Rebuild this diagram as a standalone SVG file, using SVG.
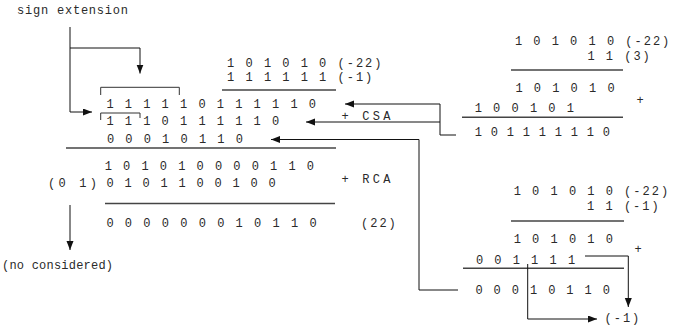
<svg xmlns="http://www.w3.org/2000/svg" width="682" height="327" viewBox="0 0 682 327">
  <style>
    text { font-family: "Liberation Mono", "DejaVu Sans Mono", monospace; font-size: 12px; fill: #2a2a2a; }
    .d { letter-spacing: 2px; }
    .rule { stroke: #444; stroke-width: 1.4; fill: none; }
    .wire { stroke: #111; stroke-width: 1; fill: none; }
    .arrow { stroke: #111; stroke-width: 1; fill: none; marker-end: url(#head); }
    .bracket { stroke: #333; stroke-width: 1; fill: none; }
  </style>
  <defs>
    <marker id="head" markerUnits="userSpaceOnUse" markerWidth="10" markerHeight="8" refX="9" refY="3.5" orient="auto">
      <path d="M0,0 L9,3.5 L0,7 z" fill="#111"/>
    </marker>
  </defs>

  <rect width="682" height="327" fill="#fff"/>

  <!-- label: sign extension -->
  <g id="sign-extension">
    <text x="17" y="13.5" textLength="111" lengthAdjust="spacing">sign extension</text>
  </g>

  <!-- CSA operands: -22 and -1 -->
  <g id="csa-operands">
    <text class="d" x="227.1" y="66.5">1 0 1 0 1 0 (-22)</text>
    <text class="d" x="227.1" y="81">1 1 1 1 1 1 (-1)</text>
    <line class="rule" x1="222" y1="90" x2="336" y2="90"/>
  </g>

  <!-- CSA rows with sign-extension brackets -->
  <g id="csa-rows">
    <path class="bracket" d="M100.7,95 V87.3 H179.3 V95"/>
    <text class="d" x="106.4" y="107.5">1 1 1 1 1 0 1 1 1 1 1 0</text>
    <path class="bracket" d="M100.7,120 V113 H140 V118"/>
    <text class="d" x="106.4" y="124.5">1 1 1 0 1 1 1 1 1 0</text>
    <text class="d" x="106.9" y="143">0 0 0 1 0 1 1 0</text>
    <text x="341.4" y="119.5" textLength="49" lengthAdjust="spacing">+ CSA</text>
    <line class="rule" x1="66" y1="148" x2="336" y2="148"/>
  </g>

  <!-- RCA addition -->
  <g id="rca">
    <text class="d" x="104.7" y="170" textLength="211.3" lengthAdjust="spacing">1 0 1 0 1 0 0 0 0 1 1 0</text>
    <text x="48" y="186.5" textLength="49" lengthAdjust="spacing">(0 1)</text>
    <text class="d" x="106.4" y="186.5" textLength="171.2" lengthAdjust="spacing">0 1 0 1 1 0 0 1 0 0</text>
    <text x="341.4" y="183" textLength="49" lengthAdjust="spacing">+ RCA</text>
    <line class="rule" x1="105" y1="203.5" x2="335" y2="203.5"/>
    <text class="d" x="106.4" y="227" textLength="212.2" lengthAdjust="spacing">0 0 0 0 0 0 0 1 0 1 1 0</text>
    <text class="d" x="361" y="227">(22)</text>
  </g>

  <!-- label: discarded carry -->
  <g id="no-considered">
    <text x="2" y="269" textLength="111" lengthAdjust="spacing">(no considered)</text>
  </g>

  <!-- partial products of -22 x 3 -->
  <g id="product-3">
    <text class="d" x="514.9" y="45">1 0 1 0 1 0 (-22)</text>
    <text class="d" x="587.4" y="59.5">1 1 (3)</text>
    <line class="rule" x1="511" y1="70" x2="623" y2="70"/>
    <text class="d" x="515.4" y="91.7">1 0 1 0 1 0</text>
    <text class="d" x="474.7" y="111.5">1 0 0 1 0 1</text>
    <text x="636.4" y="104">+</text>
    <line class="rule" x1="462" y1="117.3" x2="623" y2="117.3"/>
    <text class="d" x="474.7" y="136" textLength="137.2" lengthAdjust="spacing">1 0 1 1 1 1 1 1 0</text>
  </g>

  <!-- partial products of -22 x -1 -->
  <g id="product-minus1">
    <text class="d" x="513.7" y="195">1 0 1 0 1 0 (-22)</text>
    <text class="d" x="587.1" y="210">1 1 (-1)</text>
    <line class="rule" x1="511" y1="221" x2="624" y2="221"/>
    <text class="d" x="513.7" y="242.5">1 0 1 0 1 0</text>
    <text x="634.4" y="253">+</text>
    <text class="d" x="475.9" y="264">0 0 1 1 1 1</text>
    <line class="rule" x1="463" y1="268.3" x2="624" y2="268.3"/>
    <text class="d" x="475.4" y="294" textLength="136.5" lengthAdjust="spacing">0 0 0 1 0 1 1 0</text>
    <text class="d" x="604.5" y="322">(-1)</text>
  </g>

  <!-- connectors -->
  <g id="connectors">
    <path class="wire" d="M70,27 V48"/>
    <path class="arrow" d="M70,48 V112 H92"/>
    <path class="arrow" d="M70,48 H140 V73.5"/>
    <path class="arrow" d="M456,135 H440 V104 H345"/>
    <path class="arrow" d="M440,122 H306"/>
    <path class="arrow" d="M458,290 H419 V139.5 H271"/>
    <path class="arrow" d="M70,205 V250"/>
    <path class="arrow" d="M585,256 H628.3 V307"/>
    <path class="arrow" d="M527.7,264 V319 H597"/>
  </g>
</svg>
